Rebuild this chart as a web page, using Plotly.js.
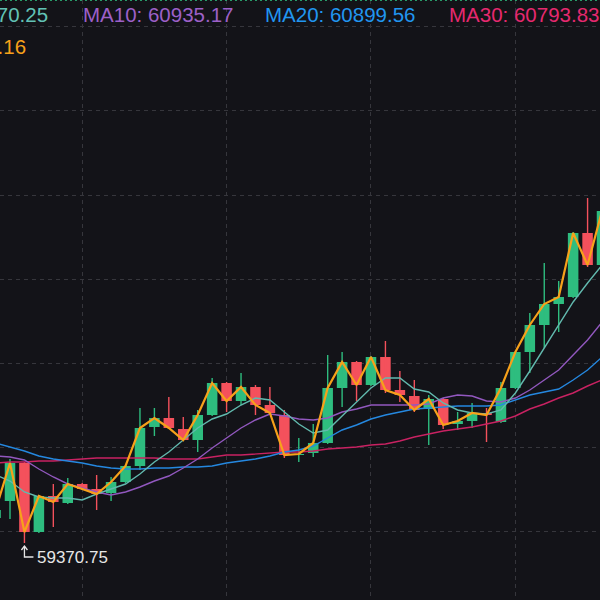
<!DOCTYPE html>
<html>
<head>
<meta charset="utf-8">
<script src="https://cdn.plot.ly/plotly-3.0.1.min.js"></script>
<style>
  html, body { margin: 0; padding: 0; background: #131318; }
  #chart { width: 600px; height: 600px; }
</style>
</head>
<body>
<div id="chart"></div>
<script>
// Candle index (time slot)
const idx = [0,1,2,3,4,5,6,7,8,9,10,11,12,13,14,15,16,17,18,19,20,21,22,23,24,25,26,27,28,29,30,31,32,33,34,35,36,37,38,39,40,41,42];

const open = [59520.75,59622.75,59850.75,59436.75,59652.75,59610.75,59724.75,59694.75,59670.75,59736.75,
  59832.75,60066.75,60120.75,60054.75,59988.75,60138.75,60330.75,60222.75,60306.75,60198.75,
  60138.75,59898.75,59910.75,59970.75,60300.75,60456.75,60318.75,60486.75,60288.75,60252.75,
  60174.75,60234.75,60084.75,60102.75,60150.75,60096.75,60300.75,60516.75,60678.75,60804.75,
  60846.75,61230.75,61038.75];
const close = [59568.75,59850.75,59436.75,59652.75,59616.75,59724.75,59694.75,59664.75,59736.75,59832.75,
  60060.75,60120.75,60060.75,59988.75,60138.75,60330.75,60222.75,60306.75,60198.75,60150.75,
  59898.75,59904.75,59970.75,60300.75,60456.75,60318.75,60486.75,60288.75,60258.75,60168.75,
  60234.75,60078.75,60102.75,60150.75,60138.75,60300.75,60516.75,60678.75,60804.75,60846.75,
  61230.75,61038.75,61362.75];
const high = [59598.75,59874.75,59856.75,59658.75,59724.75,59760.75,59730.75,59778.75,59766.75,59838.75,
  60180.75,60180.75,60246.75,60126.75,60168.75,60360.75,60336.75,60390.75,60318.75,60306.75,
  60168.75,60000.75,60084.75,60498.75,60516.75,60462.75,60492.75,60582.75,60402.75,60348.75,
  60258.75,60240.75,60156.75,60210.75,60180.75,60336.75,60522.75,60750.75,61050.75,60942.75,
  61236.75,61440.75,61398.75];
const low = [59496.75,59514.75,59370.75,59430.75,59466.75,59604.75,59688.75,59568.75,59622.75,59730.75,
  59808.75,60012.75,60054.75,59982.75,59916.75,60132.75,60156.75,60198.75,60138.75,60138.75,
  59880.75,59856.75,59886.75,59964.75,60186.75,60222.75,60312.75,60270.75,60216.75,60156.75,
  59958.75,60054.75,60048.75,60060.75,59976.75,60090.75,60294.75,60390.75,60540.75,60636.75,
  60840.75,61026.75,61032.75];

const ma5 = [59778.75,59742.75,59676.75,59646.75,59640.75,59640.75,59628.75,59664.75,59694.75,59724.75,
  59784.75,59856.75,59916.75,59988.75,60060.75,60114.75,60144.75,60198.75,60240.75,60228.75,
  60156.75,60084.75,60030.75,60048.75,60132.75,60216.75,60300.75,60360.75,60360.75,60294.75,
  60276.75,60210.75,60168.75,60150.75,60144.75,60168.75,60270.75,60402.75,60540.75,60678.75,
  60816.75,60930.75,61038.75];
const ma10 = [59892.75,59886.75,59868.75,59814.75,59766.75,59724.75,59700.75,59676.75,59658.75,59676.75,
  59706.75,59742.75,59772.75,59820.75,59874.75,59940.75,60000.75,60060.75,60108.75,60144.75,
  60132.75,60114.75,60108.75,60120.75,60156.75,60174.75,60198.75,60198.75,60198.75,60198.75,
  60204.75,60240.75,60258.75,60252.75,60222.75,60216.75,60240.75,60288.75,60348.75,60408.75,
  60498.75,60588.75,60696.75];
const ma20 = [59970.75,59946.75,59922.75,59892.75,59874.75,59862.75,59850.75,59832.75,59820.75,59814.75,
  59814.75,59820.75,59820.75,59826.75,59826.75,59832.75,59850.75,59862.75,59874.75,59892.75,
  59916.75,59928.75,59952.75,60000.75,60048.75,60078.75,60114.75,60138.75,60156.75,60174.75,
  60180.75,60186.75,60192.75,60192.75,60192.75,60198.75,60228.75,60258.75,60276.75,60294.75,
  60348.75,60408.75,60486.75];
const ma30 = [59850.75,59856.75,59856.75,59862.75,59862.75,59868.75,59874.75,59880.75,59880.75,59880.75,
  59880.75,59880.75,59874.75,59874.75,59874.75,59886.75,59898.75,59898.75,59904.75,59910.75,
  59916.75,59916.75,59922.75,59934.75,59940.75,59946.75,59958.75,59964.75,59982.75,60006.75,
  60024.75,60042.75,60054.75,60066.75,60084.75,60102.75,60132.75,60174.75,60204.75,60240.75,
  60270.75,60312.75,60348.75];

const legendTexts = ["MA5: 61070.25", "MA10: 60935.17", "MA20: 60899.56", "MA30: 60793.83"];
const closeLabel = "MA1: 61235.16";
const lowIndex = 2;
const lowValue = 59370.75;
const lowLabel = "59370.75";

const UP = "#2ebd7f", DOWN = "#f4515c";
const C5 = "#62b9ae", C10 = "#9258bf", C20 = "#2588e0", C30 = "#c92262", CORANGE = "#f7a11a";

// wick traces (split by direction)
function wicks(up) {
  const xs = [], ys = [];
  idx.forEach((i, k) => {
    if ((close[k] >= open[k]) === up) { xs.push(i, i, null); ys.push(low[k], high[k], null); }
  });
  return { type: "scatter", mode: "lines", x: xs, y: ys, hoverinfo: "skip",
    line: { color: up ? UP : DOWN, width: 1.4 }, showlegend: false };
}

const bodies = {
  type: "bar", x: idx,
  base: idx.map((_, k) => Math.min(open[k], close[k])),
  y: idx.map((_, k) => Math.max(Math.abs(close[k] - open[k]), 4)),
  width: 0.73,
  marker: { color: idx.map((_, k) => close[k] >= open[k] ? UP : DOWN), line: { width: 0 } },
  showlegend: false, hoverinfo: "skip"
};

function maLine(vals, color, w) {
  return { type: "scatter", mode: "lines", x: idx, y: vals, line: { color: color, width: w },
    hoverinfo: "skip", showlegend: false };
}

const data = [wicks(true), wicks(false), bodies,
  maLine(ma30, C30, 1.4), maLine(ma20, C20, 1.4), maLine(ma10, C10, 1.4), maLine(ma5, C5, 1.4),
  maLine(close, CORANGE, 2.2)];

const font = "Liberation Sans, Arial, Helvetica, sans-serif";
const headY = 1 - 14.5 / 600;
const annotations = [
  { text: legendTexts[0], x: 50 / 600, xanchor: "right", font: { color: "#62c2b5" } },
  { text: legendTexts[1], x: 81 / 600, xanchor: "left", font: { color: "#9d60c8" } },
  { text: legendTexts[2], x: 263 / 600, xanchor: "left", font: { color: "#2196f0" } },
  { text: legendTexts[3], x: 447 / 600, xanchor: "left", font: { color: "#e6296f" } }
].map(a => Object.assign({ xref: "paper", yref: "paper", y: headY, yanchor: "middle", showarrow: false },
  a, { font: { family: font, size: 20.5, color: a.font.color } }));
annotations.push({ text: closeLabel, xref: "paper", yref: "paper", x: 28 / 600, xanchor: "right",
  y: 1 - 46.5 / 600, yanchor: "middle", showarrow: false, font: { family: font, size: 20.5, color: CORANGE } });
annotations.push({ text: lowLabel, xref: "x", yref: "y", x: lowIndex, y: lowValue, xanchor: "left", yanchor: "middle",
  xshift: 11, yshift: -14, showarrow: false, font: { family: font, size: 17, color: "#e6e6e6" } });

const shapes = [
  { type: "path", xref: "x", yref: "y", xsizemode: "pixel", ysizemode: "pixel", xanchor: lowIndex, yanchor: lowValue,
    path: "M0,-3 L0,-14 L9,-14", line: { color: "#e6e6e6", width: 1.3 } },
  { type: "path", xref: "x", yref: "y", xsizemode: "pixel", ysizemode: "pixel", xanchor: lowIndex, yanchor: lowValue,
    path: "M-3,-7 L0,-3 L3,-7", line: { color: "#e6e6e6", width: 1.3 } },
  { type: "line", xref: "paper", yref: "paper", x0: 0, x1: 1, y0: 0.9995, y1: 0.9995,
    line: { color: "#2ebd7f", width: 1, dash: "2px,3px" } }
];

const layout = {
  width: 600, height: 600,
  margin: { l: 0, r: 0, t: 0, b: 0, pad: 0 },
  paper_bgcolor: "#131318", plot_bgcolor: "#131318",
  barmode: "overlay", showlegend: false, hovermode: false,
  xaxis: { range: [0.3075, 41.86], showticklabels: false, ticks: "", zeroline: false, showline: false,
    showgrid: true, gridcolor: "#36363c", griddash: "4px,4px", gridwidth: 1, tick0: 6, dtick: 10 },
  yaxis: { range: [59028.75, 62628.75], showticklabels: false, ticks: "", zeroline: false, showline: false,
    showgrid: true, gridcolor: "#36363c", griddash: "4px,4px", gridwidth: 1, tick0: 59438.55, dtick: 505 },
  annotations: annotations, shapes: shapes
};

Plotly.newPlot("chart", data, layout, { displayModeBar: false, staticPlot: true });
</script>
</body>
</html>
